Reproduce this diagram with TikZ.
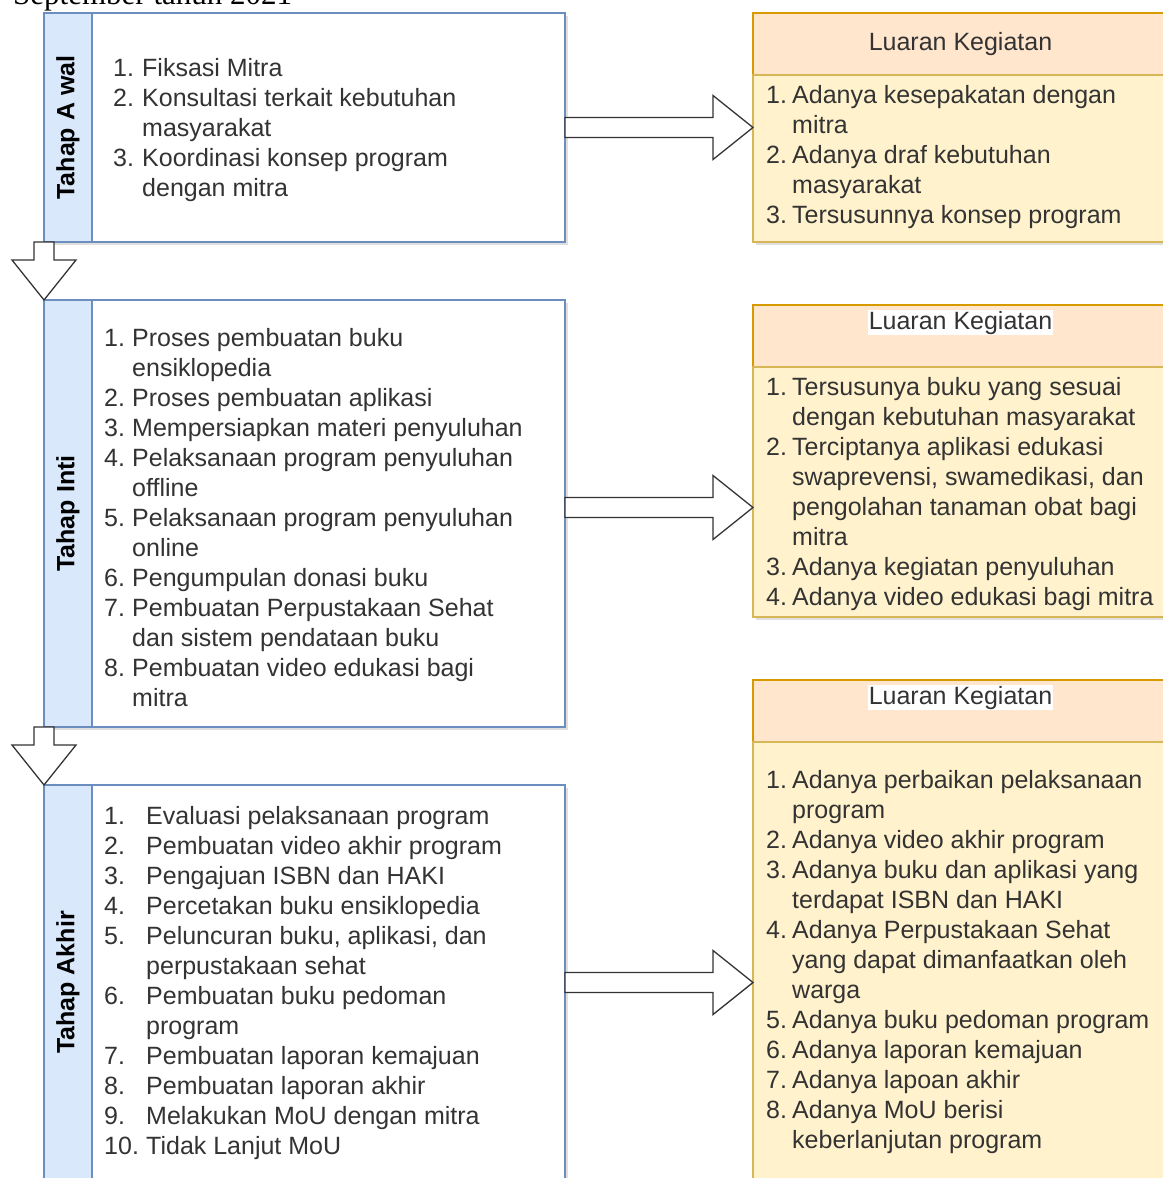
\documentclass[tikz,border=0pt]{standalone}
\usepackage{fontspec}
\setmainfont{Liberation Sans}
\newfontfamily\mySerifFont{Liberation Serif}
\usetikzlibrary{shadows,calc,positioning}

\definecolor{barfill}{HTML}{DAE8FC}
\definecolor{barline}{HTML}{6C8EBF}
\definecolor{headfill}{HTML}{FFE6CC}
\definecolor{headline}{HTML}{D79B00}
\definecolor{bodyfill}{HTML}{FFF2CC}
\definecolor{bodyline}{HTML}{D6B656}
\definecolor{txtgray}{HTML}{333333}
\newcommand{\myItem}[3][28pt]{\makebox[#1][l]{#2}#3}
\newcommand{\myArrowRight}[3][0]{%
	\draw[BlockArrow] let \p1=($(#2.east)+(0,#1)$), \p2=(#3.west) in
	(\x1,\y1+10) -- (\x2-40,\y1+10) -- (\x2-40,\y1+32) -- (\x2,\y1)
	-- (\x2-40,\y1-32) -- (\x2-40,\y1-10) -- (\x1,\y1-10) -- cycle;}
\newcommand{\myArrowDown}[2]{%
	\draw[BlockArrow] let \p1=(#1.south west), \p2=(#2.north west) in
	(\x1-10,\y1) -- (\x1+10,\y1) -- (\x1+10,\y2+40) -- (\x1+32,\y2+40)
	-- (\x1,\y2) -- (\x1-32,\y2+40) -- (\x1-10,\y2+40) -- cycle;}

\begin{document}
\begin{tikzpicture}[x=1pt,y=-1pt,
	Shade/.style={drop shadow={opacity=0.25}},
	Bar/.style={rectangle,fill=barfill,draw=barline,line width=1.3pt,minimum width=48pt,inner sep=0pt,outer sep=0pt,Shade},
	Box/.style={rectangle,fill=white,draw=barline,line width=1.3pt,minimum width=473pt,inner sep=0pt,outer sep=0pt,Shade},
	Head/.style={rectangle,fill=headfill,draw=headline,line width=1.3pt,minimum width=415pt,minimum height=62pt,inner sep=0pt,outer sep=0pt,Shade},
	Body/.style={rectangle,fill=bodyfill,draw=bodyline,line width=1.3pt,minimum width=415pt,inner sep=0pt,outer sep=0pt,Shade},
	Title/.style={rotate=90,text=black,font=\fontsize{25}{30}\selectfont\bfseries},
	HeadText/.style={text=txtgray,font=\fontsize{25}{30}\selectfont},
	List/.style={anchor=north west,inner sep=0pt,align=left,text=txtgray,font=\fontsize{25}{30}\selectfont},
	BlockArrow/.style={draw=black!80,fill=white,line width=1.3pt,line join=miter},
]
	\useasboundingbox (0,0) rectangle (1162,1178);

	\node[anchor=base west,inner sep=0pt,font=\mySerifFont\fontsize{31}{36}\selectfont] (sept) at (13,4) {September tahun 2021};

	% left column
	\node[Bar,minimum height=229pt,anchor=north west] (awBar) at (44,13) {};
	\node[Box,minimum height=229pt,right=0pt of awBar] (aw) {};
	\node[Bar,minimum height=427pt,anchor=north west] (inBar) at (44,300) {};
	\node[Box,minimum height=427pt,right=0pt of inBar] (in) {};
	\node[Bar,minimum height=395pt,anchor=north west] (akBar) at (44,785) {};
	\node[Box,minimum height=395pt,right=0pt of akBar] (ak) {};

	\node[Title] (awTitle) at (awBar.center) {Tahap A wal};
	\node[Title] (inTitle) at (inBar.center) {Tahap Inti};
	\node[Title] (akTitle) at (akBar.center) {Tahap Akhir};

	% right column
	\node[Head,anchor=north west] (lk1h) at (753,13) {};
	\node[Body,minimum height=167pt,below=0pt of lk1h] (lk1b) {};
	\node[Head,anchor=north west] (lk2h) at (753,305) {};
	\node[Body,minimum height=250pt,below=0pt of lk2h] (lk2b) {};
	\node[Head,anchor=north west] (lk3h) at (753,680) {};
	\node[Body,minimum height=443pt,below=0pt of lk3h] (lk3b) {};

	\node[HeadText] (lk1t) at (lk1h.center) {Luaran Kegiatan};
	\node[HeadText,fill=white,inner sep=1pt,anchor=base] (lk2t) at ($(lk2h.north)+(0,24)$) {Luaran Kegiatan};
	\node[HeadText,fill=white,inner sep=1pt,anchor=base] (lk3t) at ($(lk3h.north)+(0,24)$) {Luaran Kegiatan};

	% arrows
	\myArrowDown{awBar}{inBar}
	\myArrowDown{inBar}{akBar}
	\myArrowRight{aw}{lk1b}
	\myArrowRight[-6]{in}{lk2b}
	\myArrowRight{ak}{lk3b}

	% lists
	\node[List] (awList) at (113,55) {\strut\myItem[29pt]{1.}{Fiksasi Mitra}\\
		\myItem[29pt]{2.}{Konsultasi terkait kebutuhan}\\
		\myItem[29pt]{}{masyarakat}\\
		\myItem[29pt]{3.}{Koordinasi konsep program}\\
		\myItem[29pt]{}{dengan mitra}};

	\node[List] (inList) at (104,325) {\strut\myItem{1.}{Proses pembuatan buku}\\
		\myItem{}{ensiklopedia}\\
		\myItem{2.}{Proses pembuatan aplikasi}\\
		\myItem{3.}{Mempersiapkan materi penyuluhan}\\
		\myItem{4.}{Pelaksanaan program penyuluhan}\\
		\myItem{}{offline}\\
		\myItem{5.}{Pelaksanaan program penyuluhan}\\
		\myItem{}{online}\\
		\myItem{6.}{Pengumpulan donasi buku}\\
		\myItem{7.}{Pembuatan Perpustakaan Sehat}\\
		\myItem{}{dan sistem pendataan buku}\\
		\myItem{8.}{Pembuatan video edukasi bagi}\\
		\myItem{}{mitra}};

	\node[List] (akList) at (104,803) {\strut\myItem[42pt]{1.}{Evaluasi pelaksanaan program}\\
		\myItem[42pt]{2.}{Pembuatan video akhir program}\\
		\myItem[42pt]{3.}{Pengajuan ISBN dan HAKI}\\
		\myItem[42pt]{4.}{Percetakan buku ensiklopedia}\\
		\myItem[42pt]{5.}{Peluncuran buku, aplikasi, dan}\\
		\myItem[42pt]{}{perpustakaan sehat}\\
		\myItem[42pt]{6.}{Pembuatan buku pedoman}\\
		\myItem[42pt]{}{program}\\
		\myItem[42pt]{7.}{Pembuatan laporan kemajuan}\\
		\myItem[42pt]{8.}{Pembuatan laporan akhir}\\
		\myItem[42pt]{9.}{Melakukan MoU dengan mitra}\\
		\myItem[42pt]{10.}{Tidak Lanjut MoU}};

	\node[List] (lk1List) at (766,82) {\strut\myItem[26pt]{1.}{Adanya kesepakatan dengan}\\
		\myItem[26pt]{}{mitra}\\
		\myItem[26pt]{2.}{Adanya draf kebutuhan}\\
		\myItem[26pt]{}{masyarakat}\\
		\myItem[26pt]{3.}{Tersusunnya konsep program}};

	\node[List] (lk2List) at (766,374) {\strut\myItem[26pt]{1.}{Tersusunya buku yang sesuai}\\
		\myItem[26pt]{}{dengan kebutuhan masyarakat}\\
		\myItem[26pt]{2.}{Terciptanya aplikasi edukasi}\\
		\myItem[26pt]{}{swaprevensi, swamedikasi, dan}\\
		\myItem[26pt]{}{pengolahan tanaman obat bagi}\\
		\myItem[26pt]{}{mitra}\\
		\myItem[26pt]{3.}{Adanya kegiatan penyuluhan}\\
		\myItem[26pt]{4.}{Adanya video edukasi bagi mitra}};

	\node[List] (lk3List) at (766,767) {\strut\myItem[26pt]{1.}{Adanya perbaikan pelaksanaan}\\
		\myItem[26pt]{}{program}\\
		\myItem[26pt]{2.}{Adanya video akhir program}\\
		\myItem[26pt]{3.}{Adanya buku dan aplikasi yang}\\
		\myItem[26pt]{}{terdapat ISBN dan HAKI}\\
		\myItem[26pt]{4.}{Adanya Perpustakaan Sehat}\\
		\myItem[26pt]{}{yang dapat dimanfaatkan oleh}\\
		\myItem[26pt]{}{warga}\\
		\myItem[26pt]{5.}{Adanya buku pedoman program}\\
		\myItem[26pt]{6.}{Adanya laporan kemajuan}\\
		\myItem[26pt]{7.}{Adanya lapoan akhir}\\
		\myItem[26pt]{8.}{Adanya MoU berisi}\\
		\myItem[26pt]{}{keberlanjutan program}};
\end{tikzpicture}
\end{document}
